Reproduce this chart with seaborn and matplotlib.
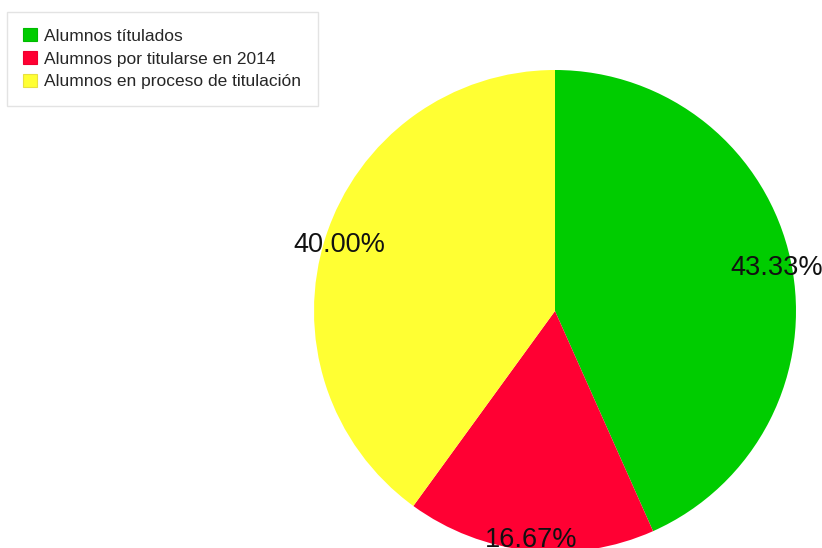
import matplotlib
matplotlib.use("Agg")
import matplotlib.pyplot as plt
import seaborn as sns
from matplotlib.patches import Patch

categories = ["Alumnos títulados", "Alumnos por titularse en 2014", "Alumnos en proceso de titulación"]
values = [43.33, 16.67, 40.00]
colors = ["#00CC00", "#FF0033", "#FFFF33"]
edge_colors = ["#00BB00", "#EE0030", "#E8E040"]

sns.set_theme(style="white")
plt.rcParams["font.family"] = ["Liberation Sans", "DejaVu Sans"]

W, H = 822, 548
fig = plt.figure(figsize=(W / 100, H / 100), dpi=100)
ax = fig.add_axes([0, 0, 1, 1])

wedges, texts, autotexts = ax.pie(
    values,
    colors=sns.color_palette(colors),
    startangle=90,
    counterclock=False,
    center=(555, H - 311),
    radius=241,
    autopct="%.2f%%",
    pctdistance=0.94,
    frame=True,
    textprops={"fontsize": 19.5, "color": "#111111"},
    wedgeprops={"linewidth": 0},
)
for t in autotexts:
    x, y = t.get_position()
    t.set_position((x, y - 4))
ax.set_xlim(0, W)
ax.set_ylim(0, H)
ax.set_aspect("equal")
ax.axis("off")

handles = [Patch(facecolor=c, edgecolor=e, linewidth=0.8) for c, e in zip(colors, edge_colors)]
leg = fig.legend(
    handles, categories,
    loc="upper left",
    bbox_to_anchor=(7 / W, 1 - 12 / H),
    fontsize=12.5,
    frameon=True,
    fancybox=False,
    handlelength=0.75,
    handleheight=0.75,
    handletextpad=0.45,
    labelspacing=0.42,
    borderpad=0.95,
    borderaxespad=0,
)
leg.get_frame().set_edgecolor("#DDDDDD")
leg.get_frame().set_linewidth(1.0)

fig.savefig("out.png", dpi=100)
